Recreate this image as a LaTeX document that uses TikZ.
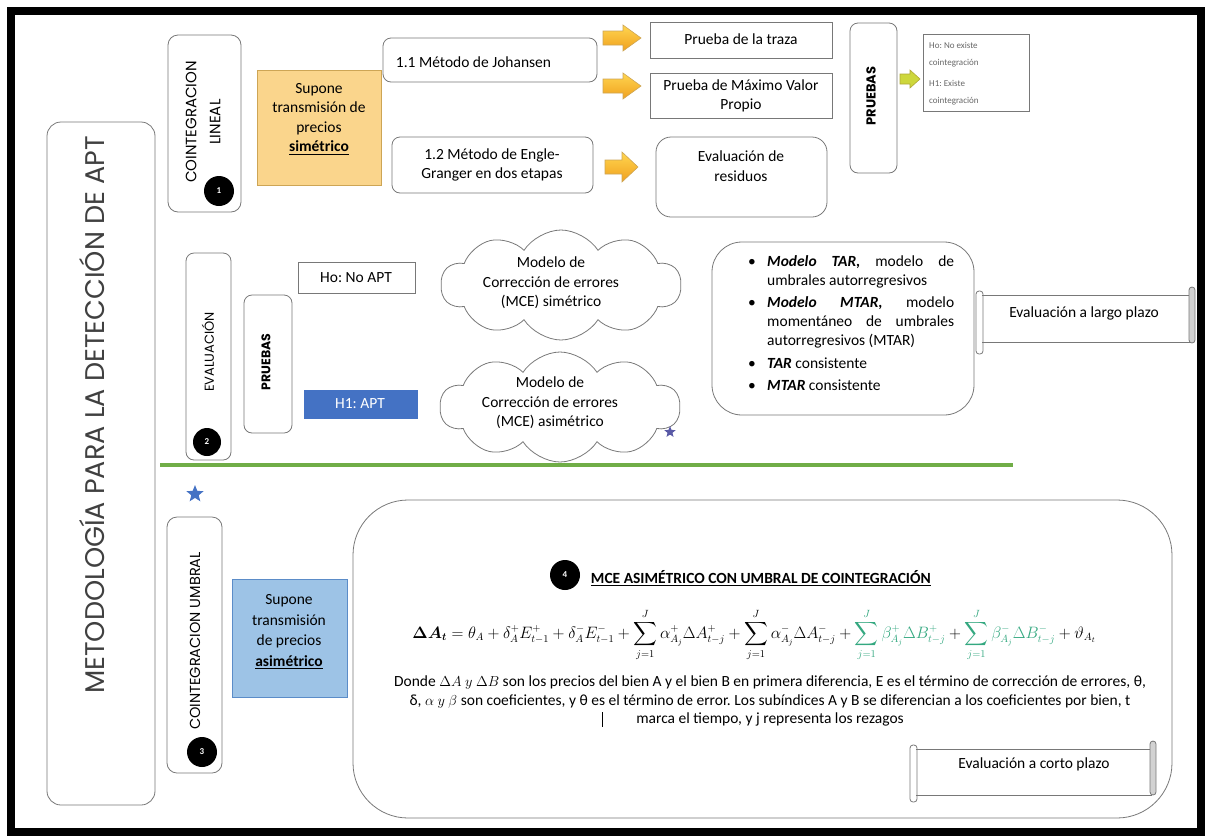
\documentclass[tikz,border=0pt]{standalone}
\usepackage{amsmath,bm,graphicx}
\usepackage{fontspec}
\setmainfont{Carlito}
\newfontfamily\geofont{Poppins}
\usetikzlibrary{shapes.geometric,shapes.symbols}
\frenchspacing

\definecolor{naranja}{RGB}{250,213,140}
\definecolor{naranjaborde}{RGB}{205,165,85}
\definecolor{celeste}{RGB}{157,195,230}
\definecolor{celesteborde}{RGB}{91,140,200}
\definecolor{azulfuerte}{RGB}{68,114,196}
\definecolor{verdelinea}{RGB}{112,173,71}
\definecolor{verdeeq}{RGB}{52,168,128}
\definecolor{flechaA}{RGB}{255,214,80}
\definecolor{flechaB}{RGB}{240,160,30}
\definecolor{flechaverde}{RGB}{205,215,60}
\definecolor{bordegris}{RGB}{120,120,120}

\tikzset{
  caja/.style={draw=bordegris, line width=0.8pt},
  rcaja/.style={draw=bordegris, line width=0.8pt, rounded corners=8},
  texto/.style={inner sep=0.75pt, align=center, font=\fontsize{15.5}{19.5}\selectfont},
  vtexto/.style={inner sep=0.75pt, align=center, rotate=90, font=\geofont\fontsize{15}{24}\selectfont},
  numero/.style={circle, fill=black, text=white, minimum size=30, inner sep=0, font=\bfseries\fontsize{9}{10}\selectfont},
  flecha/.style={draw=naranjaborde, line width=0.6pt, top color=flechaA, bottom color=flechaB},
  nube/.style={cloud, cloud puffs=10, cloud puff arc=115, aspect=2.2, draw=bordegris, line width=0.8pt, minimum width=240, minimum height=110, inner sep=0},
  estrella/.style={star, star points=5, star point ratio=2.3, inner sep=0}
}

\begin{document}
\begin{tikzpicture}[x=1pt,y=1pt,yscale=-1,xscale=1]
\useasboundingbox (0,0) rectangle (1208,839);

%Frame
\draw [line width=8pt] (11,11) rectangle (1201,832) ;

%Rounded Rect: metodologia
\draw [rcaja, rounded corners=14] (47,122) rectangle (155,805) ;
% Text Node
\draw (92,415) node (titulo) [inner sep=0.75pt, rotate=90, text=black!75, font=\geofont\fontsize{27}{30}\selectfont] {METODOLOGÍA PARA LA DETECCIÓN DE APT};

%Rounded Rect: cointegracion lineal
\draw [rcaja, rounded corners=10] (168,35) rectangle (241,212) ;
\draw (203,122) node (clineal) [vtexto] {COINTEGRACION\\LINEAL};
\node (uno) [numero] at (219,191) {1};

%Shape: Rectangle (orange)
\draw [draw=naranjaborde, fill=naranja, line width=0.8pt] (257,70) rectangle (381,185) ;
\draw (319,119) node (supsim) [texto] {Supone\\transmisión de\\precios\\\underline{\textbf{simétrico}}};

%Rounded Rect: Johansen
\draw [rcaja] (383,38) rectangle (597,82) ;
\draw (395,62) node (johansen) [texto, anchor=west] {1.1 Método de Johansen};

%Rounded Rect: Engle-Granger
\draw [rcaja] (392,137) rectangle (593,193) ;
\draw (492,165) node (engle) [texto] {1.2 Método de Engle-\\Granger en dos etapas};

%Block arrows
\draw [flecha] (603,31) -- (623,31) -- (623,25) -- (641,38) -- (623,51) -- (623,45) -- (603,45) -- cycle ;
\draw [flecha] (603,79) -- (623,79) -- (623,73) -- (641,86) -- (623,99) -- (623,93) -- (603,93) -- cycle ;
\draw [flecha] (605,160) -- (622,160) -- (622,152) -- (638,167) -- (622,182) -- (622,174) -- (605,174) -- cycle ;

%Shape: Rectangle traza
\draw [caja] (650,22) rectangle (832,58) ;
\draw (741,39) node (traza) [texto] {Prueba de la traza};
%Shape: Rectangle maximo
\draw [caja] (650,73) rectangle (832,118) ;
\draw (741,96) node (maximo) [texto] {Prueba de Máximo Valor\\Propio};
%Rounded Rect: residuos
\draw [rcaja, rounded corners=15] (656,137) rectangle (827,217) ;
\draw (741,166) node (residuos) [texto] {Evaluación de\\residuos};

%Rounded Rect: pruebas (1)
\draw [rcaja] (850,23) rectangle (897,173) ;
\draw (871,96) node (pruebasA) [inner sep=0.75pt, rotate=90, font=\geofont\bfseries\fontsize{13}{15}\selectfont] {PRUEBAS};
%small arrow
\draw [draw=olive!70, fill=flechaverde, line width=0.6pt] (900,74) -- (910,74) -- (910,70) -- (920,79) -- (910,88) -- (910,84) -- (900,84) -- cycle ;
%Shape: Rectangle hipotesis
\draw [caja] (923,34) rectangle (1029,111) ;
\draw (929,42) node (hipotesis) [anchor=north west, inner sep=0, align=left, text=black!60, font=\fontsize{9}{17}\selectfont] {Ho: No existe\\cointegración\\[4pt]H1: Existe\\cointegración};

%Rounded Rect: evaluacion
\draw [rcaja] (186,253) rectangle (231,460) ;
\draw (208,352) node (evaluacion) [vtexto, font=\geofont\fontsize{13}{15}\selectfont] {EVALUACIÓN};
\node (dos) [numero, minimum size=28] at (207,442) {2};

%Rounded Rect: pruebas (2)
\draw [rcaja] (244,295) rectangle (292,433) ;
\draw (266,362) node (pruebasB) [inner sep=0.75pt, rotate=90, font=\geofont\bfseries\fontsize{12.5}{14}\selectfont] {PRUEBAS};

%Shape: Rectangle Ho / H1
\draw [caja] (298,262) rectangle (415,293) ;
\draw (356,278) node (hono) [texto] {Ho: No APT};
\draw [draw=azulfuerte, fill=azulfuerte] (304,390) rectangle (417,418) ;
\draw (360,404) node (hsi) [texto, text=white] {H1: APT};

%Clouds
\node (nubeA) [nube] at (561,285) {};
\draw (551,283) node (simetrico) [texto] {Modelo de\\Corrección de errores\\(MCE) simétrico};
\node (nubeB) [nube] at (560,407) {};
\draw (550,403) node (asimetrico) [texto] {Modelo de\\Corrección de errores\\(MCE) asimétrico};
\node (estrellaA) [estrella, fill=gray!70!blue, minimum size=12] at (670,432) {};

%Rounded Rect: TAR
\draw [rcaja, rounded corners=30] (712,242) rectangle (974,415) ;
\draw (748,255) node (tar) [anchor=north west, inner sep=0, text width=206, align=justify, font=\fontsize{15.5}{19}\selectfont] {%
\noindent\hangindent=19pt\hangafter=1\makebox[19pt][l]{\textbullet}\textbf{\textit{Modelo TAR,}} modelo de\linebreak umbrales autorregresivos\par\vspace{3.5pt}
\noindent\hangindent=19pt\hangafter=1\makebox[19pt][l]{\textbullet}\textbf{\textit{Modelo MTAR,}} modelo\linebreak momentáneo de umbrales\linebreak autorregresivos (MTAR)\par\vspace{3.5pt}
\noindent\hangindent=19pt\hangafter=1\makebox[19pt][l]{\textbullet}\textbf{\textit{TAR}} consistente\par\vspace{3.5pt}
\noindent\hangindent=19pt\hangafter=1\makebox[19pt][l]{\textbullet}\textbf{\textit{MTAR}} consistente};

%Scroll: largo plazo
\draw [caja] (982,295) -- (1191,295) ;
\draw [caja] (982,342) -- (1191,342) ;
\draw [caja, rounded corners=3] (976,291) rectangle (983,354) ;
\draw [caja, fill=gray!35, rounded corners=3] (1189,287) rectangle (1195,343) ;
\draw (1084,313) node (largo) [texto] {Evaluación a largo plazo};

%Straight Lines: green
\draw [verdelinea, line width=4pt] (160,465) -- (1013,465) ;
\node (estrellaB) [estrella, fill=azulfuerte, minimum size=18] at (195,494) {};

%Rounded Rect: cointegracion umbral
\draw [rcaja, rounded corners=10] (167,517) rectangle (222,773) ;
\draw (195,641) node (cumbral) [vtexto, font=\geofont\fontsize{14.5}{17}\selectfont] {COINTEGRACION UMBRAL};
\node (tres) [numero] at (202,752) {3};

%Shape: Rectangle (blue)
\draw [draw=celesteborde, fill=celeste, line width=0.8pt] (232,579) rectangle (347,697) ;
\draw (289,632) node (supasim) [texto, font=\fontsize{15.5}{20.5}\selectfont] {Supone\\transmisión\\de precios\\\underline{\textbf{asimétrico}}};

%Rounded Rect: MCE
\draw [rcaja, rounded corners=55] (353,500) rectangle (1172,818) ;
\node (cuatro) [numero] at (565,575) {4};
\draw (590,578) node (mcetitulo) [anchor=west, inner sep=0.75pt, font=\bfseries\fontsize{15.5}{18}\selectfont] {\underline{MCE ASIMÉTRICO CON UMBRAL DE COINTEGRACIÓN}};
% Text Node: equation
\draw (754,635) node (ecuacion) [inner sep=0.75pt, font=\fontsize{16}{18}\selectfont] {\scalebox{0.955}{$\displaystyle \bm{\Delta A_t} = \theta_A + \delta_A^{+}E_{t-1}^{+} + \delta_A^{-}E_{t-1}^{-} + \sum_{j=1}^{J}\alpha_{A_j}^{+}\Delta A_{t-j}^{+} + \sum_{j=1}^{J}\alpha_{A_j}^{-}\Delta A_{t-j}^{-} + {\color{verdeeq}\sum_{j=1}^{J}\beta_{A_j}^{+}\Delta B_{t-j}^{+}} + {\color{verdeeq}\sum_{j=1}^{J}\beta_{A_j}^{-}\Delta B_{t-j}^{-}} + \vartheta_{A_t}$}};
% Text Node: donde
\draw (770,701) node (donde) [texto, font=\fontsize{15.5}{18.5}\selectfont] {Donde $\Delta A\ y\ \Delta B$ son los precios del bien A y el bien B en primera diferencia, E es el término de corrección de errores, θ,\\δ, $\alpha\ y\ \beta$ son coeficientes, y θ es el término de error. Los subíndices A y B se diferencian a los coeficientes por bien, t\\marca el tiempo, y j representa los rezagos};
\draw [line width=1pt] (602,712) -- (602,727) ;

%Scroll: corto plazo
\draw [caja] (916,749) -- (1152,749) ;
\draw [caja] (916,795) -- (1152,795) ;
\draw [caja, rounded corners=3] (910,745) rectangle (917,802) ;
\draw [caja, fill=gray!35, rounded corners=3] (1150,741) rectangle (1156,795) ;
\draw (1034,764) node (corto) [texto] {Evaluación a corto plazo};

\end{tikzpicture}
\end{document}
